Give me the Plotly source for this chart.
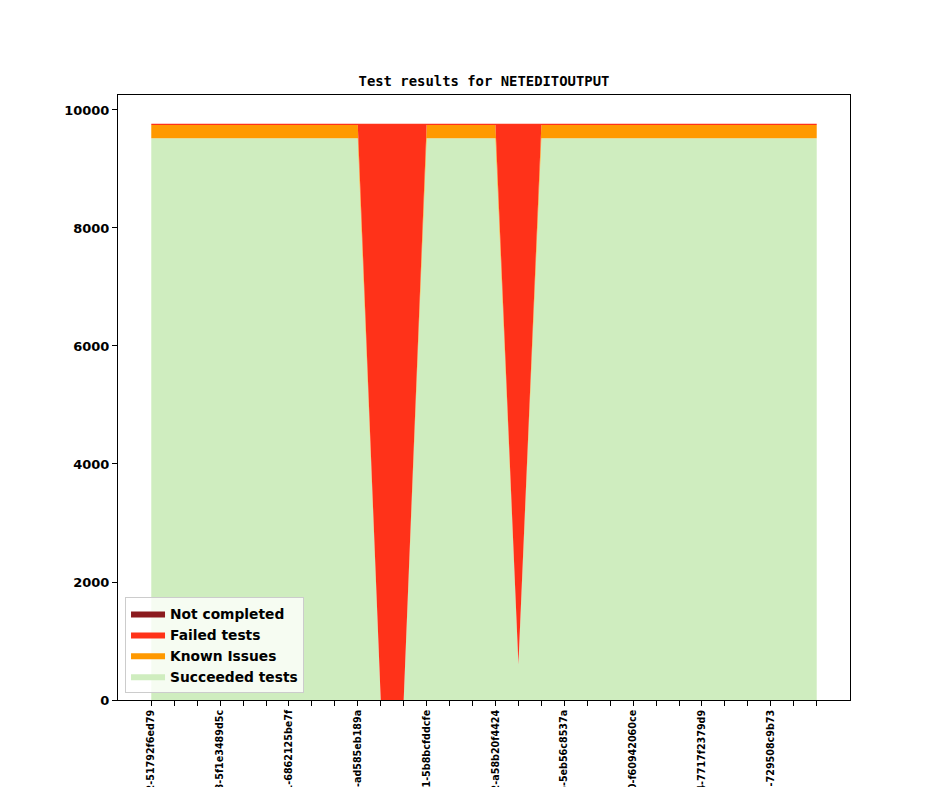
import plotly.graph_objects as go

# Dataset - one point per build, 30 builds
n_builds = 30
x = list(range(n_builds))

succeeded = [9520] * 10 + [0, 0] + [9520] * 4 + [600] + [9520] * 13
known = [225] * 10 + [0, 0] + [225] * 4 + [0] + [225] * 13
failed = [21] * 10 + [9766, 9766] + [21] * 4 + [9166] + [21] * 13
not_completed = [0] * n_builds

# only every third build gets a label
label_pos = [0, 3, 6, 9, 12, 15, 18, 21, 24, 27]
labels = ['v1_19_0+0412-51792f6ed79', 'v1_19_0+0488-5f1e3489d5c',
          'v1_19_0+0531-6862125be7f', 'v1_19_0+0590-ad585eb189a',
          'v1_19_0+0641-5b8bcfddcfe', 'v1_19_0+0702-a58b20f4424',
          'v1_19_0+0766-5eb56c8537a', 'v1_19_0+0810-f60942060ce',
          'v1_19_0+0874-7717f2379d9', 'v1_19_0+0923-729508c9b73']

ticktext = [''] * n_builds
for p, l in zip(label_pos, labels):
    ticktext[p] = l

series = [
    ('Succeeded tests', succeeded, '#cfedbf'),
    ('Known Issues', known, '#ff9900'),
    ('Failed tests', failed, '#ff3219'),
    ('Not completed', not_completed, '#8b1a1e'),
]

fig = go.Figure()
for name, vals, col in series:
    fig.add_trace(go.Scatter(x=x, y=vals, name=name, mode='lines',
                             stackgroup='one', fillcolor=col,
                             line=dict(width=0, color=col)))

font = dict(family='DejaVu Sans', weight='bold', color='black')

# page has an 8px body margin, so margins are shifted to compensate
fig.update_layout(
    width=944, height=787,
    margin=dict(l=110, r=102, t=87, b=95),
    plot_bgcolor='white', paper_bgcolor='white',
    title=dict(text='Test results for NETEDITOUTPUT', x=0.5042, xanchor='center',
               y=1 - 73 / 787, yanchor='middle',
               font=dict(family='DejaVu Sans Mono', weight='bold', size=13.9, color='black')),
    legend=dict(x=0.0096, y=0.0116, xanchor='left', yanchor='bottom',
                traceorder='reversed', bgcolor='rgba(255,255,255,0.8)',
                bordercolor='#cccccc', borderwidth=1, itemwidth=34,
                font=dict(size=13.8, **font)),
    showlegend=True,
)
fig.update_xaxes(range=[-1.45, n_builds - 1 + 1.45], tickvals=x, ticktext=ticktext,
                 tickangle=-90, ticks='outside', ticklen=5, tickcolor='black',
                 showline=True, linecolor='black', linewidth=1, mirror=True,
                 showgrid=False, zeroline=False, automargin=False,
                 tickfont=dict(size=9.6, **font))
fig.update_yaxes(range=[0, 10254], tickvals=[0, 2000, 4000, 6000, 8000, 10000],
                 ticktext=['0', '2000', '4000', '6000', '8000', '10000'],
                 ticks='outside', ticklen=5, tickcolor='black',
                 showline=True, linecolor='black', linewidth=1, mirror=True,
                 showgrid=False, zeroline=False, automargin=False,
                 tickfont=dict(size=13, **font))

fig.write_html("out.html")
